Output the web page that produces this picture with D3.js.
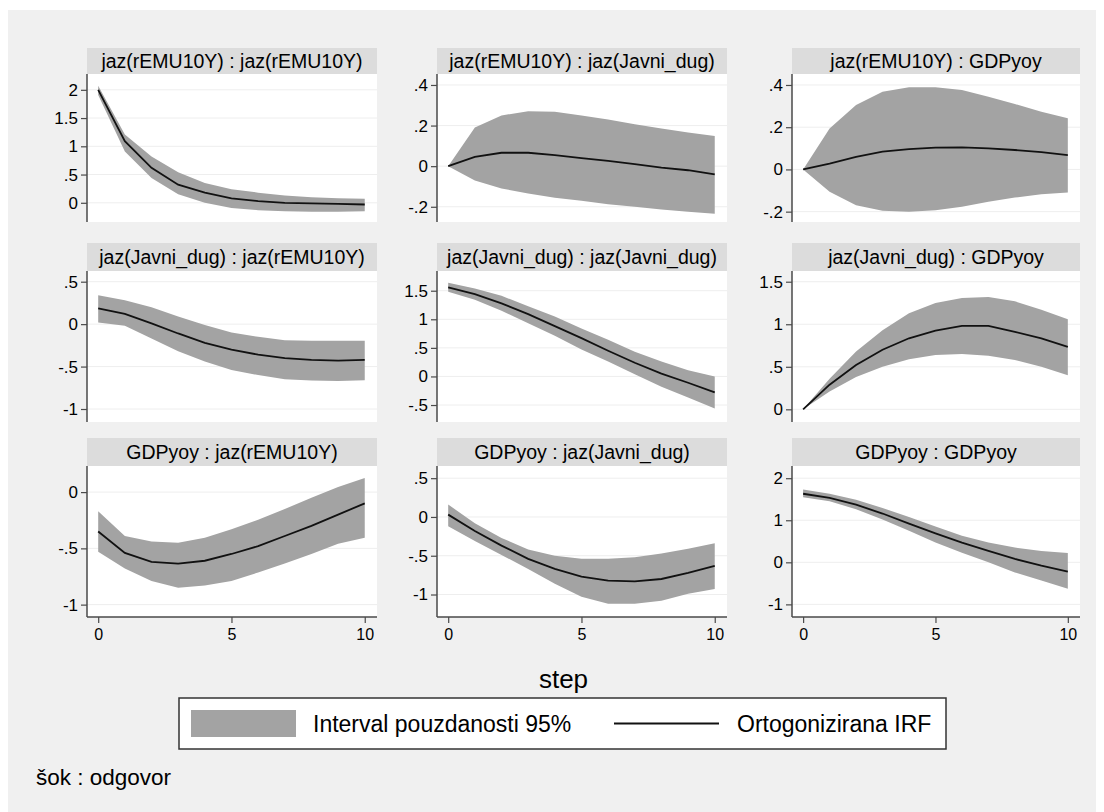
<!DOCTYPE html>
<html>
<head>
<meta charset="utf-8">
<script src="https://cdn.jsdelivr.net/npm/d3@7"></script>
<style>
	body { margin: 0; background: #ffffff; }
	text { font-family: "Liberation Sans", Arial, sans-serif; fill: #000; }
</style>
</head>
<body>
<div id="irf_chart"></div>
<script>

// horizon of the impulse responses
const steps = [0, 1, 2, 3, 4, 5, 6, 7, 8, 9, 10];

// shock : response, row by row
const panelTitles = [
	"jaz(rEMU10Y) : jaz(rEMU10Y)", "jaz(rEMU10Y) : jaz(Javni_dug)", "jaz(rEMU10Y) : GDPyoy",
	"jaz(Javni_dug) : jaz(rEMU10Y)", "jaz(Javni_dug) : jaz(Javni_dug)", "jaz(Javni_dug) : GDPyoy",
	"GDPyoy : jaz(rEMU10Y)", "GDPyoy : jaz(Javni_dug)", "GDPyoy : GDPyoy"
];

// orthogonalised IRF
const irfValues = [
	[2.0, 1.09, 0.62, 0.32, 0.18, 0.08, 0.03, 0.0, -0.01, -0.02, -0.03],
	[0, 0.046, 0.066, 0.066, 0.054, 0.04, 0.026, 0.01, -0.007, -0.02, -0.04],
	[0, 0.028, 0.06, 0.084, 0.096, 0.103, 0.104, 0.1, 0.092, 0.082, 0.068],
	[0.185, 0.12, 0.01, -0.11, -0.22, -0.3, -0.36, -0.4, -0.42, -0.43, -0.42],
	[1.56, 1.44, 1.28, 1.09, 0.88, 0.67, 0.45, 0.24, 0.05, -0.11, -0.28],
	[0, 0.29, 0.52, 0.70, 0.835, 0.925, 0.98, 0.98, 0.91, 0.835, 0.735],
	[-0.35, -0.54, -0.62, -0.635, -0.61, -0.55, -0.48, -0.39, -0.30, -0.2, -0.1],
	[0.03, -0.18, -0.37, -0.54, -0.67, -0.77, -0.82, -0.83, -0.8, -0.72, -0.63],
	[1.63, 1.53, 1.37, 1.16, 0.92, 0.69, 0.47, 0.27, 0.08, -0.08, -0.22]
];

// 95% confidence band, lower edge
const lowerValues = [
	[1.91, 0.91, 0.44, 0.15, 0.0, -0.09, -0.13, -0.15, -0.16, -0.16, -0.15],
	[0, -0.07, -0.11, -0.135, -0.155, -0.17, -0.187, -0.2, -0.214, -0.224, -0.234],
	[0, -0.106, -0.17, -0.196, -0.2, -0.193, -0.177, -0.153, -0.133, -0.118, -0.109],
	[0.02, -0.02, -0.17, -0.32, -0.44, -0.54, -0.6, -0.65, -0.665, -0.67, -0.66],
	[1.48, 1.34, 1.15, 0.93, 0.71, 0.47, 0.26, 0.04, -0.18, -0.37, -0.56],
	[0, 0.21, 0.38, 0.50, 0.59, 0.64, 0.65, 0.63, 0.58, 0.50, 0.40],
	[-0.53, -0.68, -0.79, -0.85, -0.83, -0.79, -0.715, -0.635, -0.55, -0.46, -0.405],
	[-0.12, -0.31, -0.49, -0.67, -0.86, -1.03, -1.12, -1.12, -1.08, -0.99, -0.93],
	[1.55, 1.45, 1.26, 1.02, 0.75, 0.47, 0.23, 0.0, -0.24, -0.43, -0.63]
];

// 95% confidence band, upper edge
const upperValues = [
	[2.07, 1.21, 0.82, 0.54, 0.35, 0.24, 0.18, 0.13, 0.10, 0.08, 0.07],
	[0, 0.19, 0.25, 0.27, 0.268, 0.25, 0.23, 0.207, 0.186, 0.166, 0.148],
	[0, 0.194, 0.305, 0.368, 0.389, 0.389, 0.376, 0.344, 0.31, 0.273, 0.242],
	[0.34, 0.28, 0.2, 0.09, -0.01, -0.1, -0.15, -0.19, -0.195, -0.195, -0.195],
	[1.64, 1.54, 1.41, 1.23, 1.05, 0.84, 0.64, 0.43, 0.26, 0.11, 0.0],
	[0, 0.36, 0.68, 0.93, 1.13, 1.25, 1.31, 1.32, 1.27, 1.17, 1.06],
	[-0.17, -0.39, -0.44, -0.45, -0.405, -0.33, -0.245, -0.15, -0.05, 0.045, 0.125],
	[0.16, -0.08, -0.27, -0.42, -0.5, -0.54, -0.54, -0.52, -0.47, -0.41, -0.34],
	[1.73, 1.63, 1.49, 1.29, 1.08, 0.85, 0.63, 0.47, 0.35, 0.27, 0.22]
];

// y axis labels and range of every panel
const yTicks = [
	[0, 0.5, 1, 1.5, 2], [-0.2, 0, 0.2, 0.4], [-0.2, 0, 0.2, 0.4],
	[-1, -0.5, 0, 0.5], [-0.5, 0, 0.5, 1, 1.5], [0, 0.5, 1, 1.5],
	[-1, -0.5, 0], [-1, -0.5, 0, 0.5], [-1, 0, 1, 2]
];
const yDomains = [
	[-0.34, 2.28], [-0.275, 0.454], [-0.249, 0.452],
	[-1.153, 0.626], [-0.797, 1.845], [-0.149, 1.626],
	[-1.11, 0.232], [-1.29, 0.657], [-1.30, 2.29]
];
const xDomain = [-0.42, 10.46];
const xTicks = [0, 5, 10];

const xTitle = "step";
const legendLabels = ["Interval pouzdanosti 95%", "Ortogonizirana IRF"];
const noteText = "šok : odgovor";


function irfGrid() {

	let width = 1104,
		height = 812;

	// panel boxes (plot region, without the title strip)
	let cols = [[87, 377], [437, 727], [792, 1080]];
	let rows = [
		{ strip: 48, top: 74, bottom: 222 },
		{ strip: 243, top: 271, bottom: 422 },
		{ strip: 438, top: 466, bottom: 617 }
	];

	let bandColor = "#a3a3a3";
	let axisColor = "#4a4a4a";

	let svg = d3
		.select("#irf_chart")
		.append("svg")
		.attr("width", width)
		.attr("height", height);

	// graph region
	svg.append("rect")
		.attr("x", 8)
		.attr("y", 10)
		.attr("width", width - 16)
		.attr("height", height - 10)
		.attr("fill", "#f0f0f0");

	// Stata writes .5 and -.2
	function stataFmt(v) {
		return String(v).replace(/^(-?)0\./, "$1.");
	}

	function panel(i) {
		let r = Math.floor(i / 3),
			c = i % 3;
		let left = cols[c][0],
			right = cols[c][1];
		let box = rows[r];

		let g = svg.append("g").attr("class", "panel");

		let x = d3.scaleLinear().domain(xDomain).range([left, right]);
		let y = d3.scaleLinear().domain(yDomains[i]).range([box.bottom, box.top]);

		// title strip
		g.append("rect")
			.attr("x", left)
			.attr("y", box.strip)
			.attr("width", right - left)
			.attr("height", box.top - box.strip)
			.attr("fill", "#dcdcdc");

		g.append("text")
			.attr("x", (left + right) / 2)
			.attr("y", (box.strip + box.top) / 2 + 7)
			.attr("text-anchor", "middle")
			.style("font-size", "19.5px")
			.text(panelTitles[i]);

		// plot region
		g.append("rect")
			.attr("x", left)
			.attr("y", box.top)
			.attr("width", right - left)
			.attr("height", box.bottom - box.top)
			.attr("fill", "#ffffff");

		// faint grid lines
		g.selectAll(".grid")
			.data(yTicks[i])
			.enter()
			.append("line")
			.attr("x1", left)
			.attr("x2", right)
			.attr("y1", d => y(d))
			.attr("y2", d => y(d))
			.attr("stroke", "#eeeeee")
			.attr("stroke-width", 1);

		let rowsData = steps.map((s, k) => ({
			step: s,
			irf: irfValues[i][k],
			lo: lowerValues[i][k],
			hi: upperValues[i][k]
		}));

		// confidence band
		g.append("path")
			.datum(rowsData)
			.attr("fill", bandColor)
			.attr("d", d3.area()
				.x(d => x(d.step))
				.y0(d => y(d.lo))
				.y1(d => y(d.hi)));

		// irf line
		g.append("path")
			.datum(rowsData)
			.attr("fill", "none")
			.attr("stroke", "#111")
			.attr("stroke-width", 1.8)
			.attr("d", d3.line()
				.x(d => x(d.step))
				.y(d => y(d.irf)));

		// y axis
		let yAxis = g.append("g")
			.attr("transform", "translate(" + left + ",0)")
			.call(d3.axisLeft(y)
				.tickValues(yTicks[i])
				.tickFormat(stataFmt)
				.tickSize(6)
				.tickSizeOuter(0)
				.tickPadding(3));
		yAxis.select(".domain")
			.attr("d", "M0," + box.top + "V" + box.bottom);
		styleAxis(yAxis, "17px");

		// x axis only on the last row
		if (r == 2) {
			let xAxis = g.append("g")
				.attr("transform", "translate(0," + box.bottom + ")")
				.call(d3.axisBottom(x)
					.tickValues(xTicks)
					.tickSize(6)
					.tickSizeOuter(0)
					.tickPadding(6));
			xAxis.select(".domain")
				.attr("d", "M" + left + ",0H" + right);
			styleAxis(xAxis, "16px");
		}
	}

	function styleAxis(a, size) {
		a.select(".domain").attr("stroke", axisColor).attr("stroke-width", 1.5);
		a.selectAll(".tick line").attr("stroke", axisColor).attr("stroke-width", 1.2);
		a.selectAll(".tick text")
			.attr("fill", "#000")
			.style("font-size", size)
			.style("font-family", "\"Liberation Sans\", Arial, sans-serif");
	}

	for (let i = 0; i < panelTitles.length; i++) {
		panel(i);
	}

	// x axis title
	svg.append("text")
		.attr("x", (cols[0][0] + cols[2][1]) / 2 - 20)
		.attr("y", 688)
		.attr("text-anchor", "middle")
		.style("font-size", "26px")
		.text(xTitle);

	// legend
	let lg = svg.append("g").attr("class", "legend");
	let lx = 179, ly = 698, lw = 767, lh = 51;

	lg.append("rect")
		.attr("x", lx)
		.attr("y", ly)
		.attr("width", lw)
		.attr("height", lh)
		.attr("fill", "#ffffff")
		.attr("stroke", "#333")
		.attr("stroke-width", 1.5);

	lg.append("rect")
		.attr("x", lx + 12)
		.attr("y", ly + 12)
		.attr("width", 105)
		.attr("height", 27)
		.attr("fill", bandColor);

	lg.append("text")
		.attr("x", lx + 134)
		.attr("y", ly + lh / 2 + 8)
		.style("font-size", "23px")
		.text(legendLabels[0]);

	lg.append("line")
		.attr("x1", lx + 435)
		.attr("x2", lx + 540)
		.attr("y1", ly + lh / 2)
		.attr("y2", ly + lh / 2)
		.attr("stroke", "#111")
		.attr("stroke-width", 2);

	lg.append("text")
		.attr("x", lx + 558)
		.attr("y", ly + lh / 2 + 8)
		.style("font-size", "23px")
		.text(legendLabels[1]);

	// note
	svg.append("text")
		.attr("x", 36)
		.attr("y", 785)
		.style("font-size", "22.5px")
		.text(noteText);
}

irfGrid();

</script>
</body>
</html>
